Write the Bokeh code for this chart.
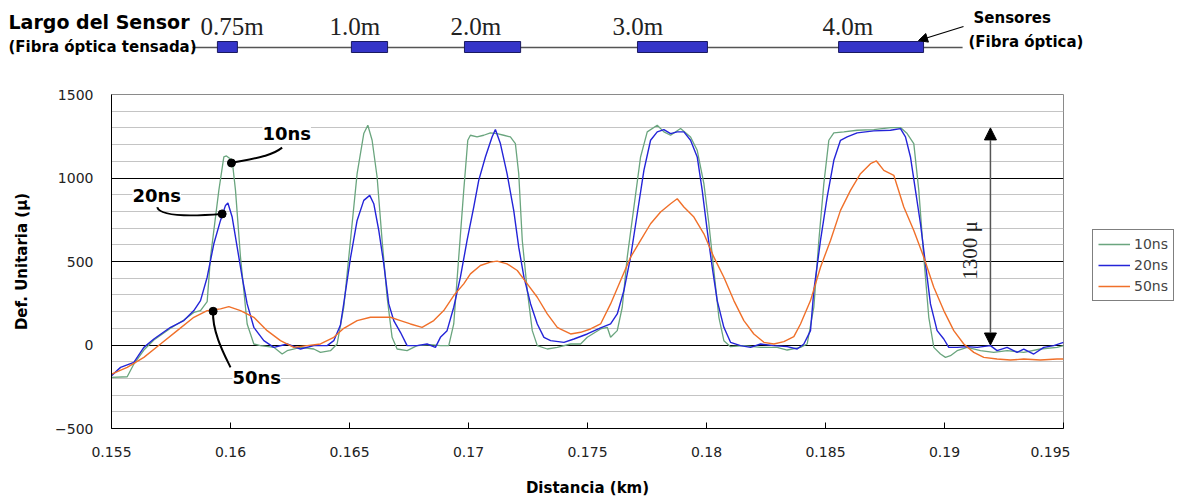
import math
from bokeh.plotting import figure
from bokeh.models import (Range1d, SingleIntervalTicker, FixedTicker, CustomJSTickFormatter,
                          Legend, LegendItem, Label, Arrow, NormalHead)
from bokeh.layouts import column, row
from bokeh.core.properties import value
from bokeh.embed import file_html
from bokeh.resources import INLINE

# ---------------- data ----------------
dist_10 = [0.15500, 0.15566, 0.15594, 0.15636, 0.15678, 0.15748, 0.15804, 0.15846, 0.15874, 0.15902,
           0.15916, 0.15951, 0.15972, 0.15983, 0.16007, 0.16021, 0.16042, 0.16070, 0.16098, 0.16126,
           0.16182, 0.16217, 0.16238, 0.16294, 0.16350, 0.16378, 0.16420, 0.16448, 0.16476, 0.16504,
           0.16532, 0.16560, 0.16577, 0.16595, 0.16616, 0.16637, 0.16658, 0.16679, 0.16700, 0.16742,
           0.16784, 0.16840, 0.16882, 0.16917, 0.16938, 0.16959, 0.16980, 0.16997, 0.17008, 0.17036,
           0.17064, 0.17092, 0.17120, 0.17148, 0.17176, 0.17197, 0.17211, 0.17226, 0.17247, 0.17268,
           0.17289, 0.17331, 0.17373, 0.17429, 0.17471, 0.17499, 0.17555, 0.17583, 0.17597, 0.17625,
           0.17646, 0.17667, 0.17695, 0.17723, 0.17751, 0.17793, 0.17821, 0.17849, 0.17891, 0.17933,
           0.17961, 0.17989, 0.18010, 0.18031, 0.18052, 0.18073, 0.18101, 0.18157, 0.18227, 0.18297,
           0.18339, 0.18395, 0.18423, 0.18451, 0.18472, 0.18493, 0.18514, 0.18535, 0.18577, 0.18633,
           0.18703, 0.18773, 0.18815, 0.18843, 0.18871, 0.18892, 0.18913, 0.18934, 0.18955, 0.18983,
           0.19004, 0.19025, 0.19053, 0.19095, 0.19151, 0.19207, 0.19263, 0.19333, 0.19403, 0.19473,
           0.19500]
def_10 = [-194, -190, -114, -30, 30, 100, 150, 195, 206, 260,
          526, 926, 1126, 1132, 1106, 926, 526, 126, 6, -4,
          -14, -54, -34, -14, -24, -44, -34, 6, 226, 626,
          1026, 1266, 1316, 1226, 1006, 626, 286, 46, -24, -34,
          -4, 2, -4, -4, 126, 526, 926, 1226, 1256, 1246,
          1256, 1270, 1266, 1256, 1246, 1206, 1026, 626, 326, 86,
          -4, -24, -14, 6, 6, 46, 96, 106, 46, 86,
          226, 526, 826, 1126, 1276, 1316, 1276, 1256, 1296, 1246,
          1166, 966, 726, 446, 166, 26, -10, -4, -14, -14,
          -30, -14, 6, 226, 626, 966, 1226, 1270, 1276, 1286,
          1290, 1302, 1302, 1266, 1206, 926, 526, 166, -14, -54,
          -74, -64, -34, -14, -34, -44, -34, -44, -24, -14,
          -4]

dist_20 = [0.15500, 0.15538, 0.15594, 0.15636, 0.15678, 0.15748, 0.15804, 0.15846, 0.15874, 0.15902,
           0.15930, 0.15958, 0.15979, 0.15989, 0.16007, 0.16028, 0.16049, 0.16070, 0.16098, 0.16140,
           0.16182, 0.16238, 0.16294, 0.16350, 0.16406, 0.16434, 0.16462, 0.16476, 0.16504, 0.16532,
           0.16560, 0.16585, 0.16602, 0.16623, 0.16644, 0.16665, 0.16686, 0.16714, 0.16742, 0.16784,
           0.16826, 0.16861, 0.16882, 0.16910, 0.16938, 0.16966, 0.16994, 0.17022, 0.17043, 0.17071,
           0.17099, 0.17113, 0.17134, 0.17162, 0.17190, 0.17211, 0.17233, 0.17261, 0.17289, 0.17317,
           0.17345, 0.17401, 0.17443, 0.17499, 0.17555, 0.17597, 0.17625, 0.17653, 0.17681, 0.17709,
           0.17737, 0.17765, 0.17793, 0.17821, 0.17849, 0.17877, 0.17905, 0.17933, 0.17961, 0.17982,
           0.18003, 0.18024, 0.18045, 0.18073, 0.18101, 0.18143, 0.18185, 0.18227, 0.18283, 0.18339,
           0.18381, 0.18409, 0.18423, 0.18437, 0.18451, 0.18479, 0.18507, 0.18535, 0.18563, 0.18591,
           0.18633, 0.18703, 0.18773, 0.18815, 0.18836, 0.18857, 0.18878, 0.18899, 0.18920, 0.18941,
           0.18969, 0.18997, 0.19018, 0.19053, 0.19095, 0.19137, 0.19193, 0.19221, 0.19263, 0.19305,
           0.19333, 0.19375, 0.19417, 0.19459, 0.19500]
def_20 = [-184, -134, -104, -14, 36, 106, 146, 206, 266, 406,
          606, 746, 836, 850, 766, 586, 406, 246, 106, 26,
          -14, 6, -24, -4, -4, 26, 120, 250, 520, 746,
          866, 896, 846, 686, 486, 246, 146, 76, -4, -4,
          6, -14, 46, 86, 226, 406, 626, 826, 986, 1126,
          1246, 1290, 1206, 1026, 806, 586, 406, 246, 126, 46,
          26, 16, 36, 66, 102, 126, 186, 326, 526, 786,
          1046, 1226, 1276, 1290, 1266, 1276, 1276, 1226, 1126, 926,
          686, 466, 266, 106, 16, -4, -14, 6, -4, -10,
          -24, 6, 46, 86, 326, 626, 886, 1106, 1226, 1246,
          1270, 1282, 1286, 1296, 1246, 1126, 926, 726, 486, 246,
          86, 36, -14, -14, -10, -14, -4, -34, -14, -44,
          -24, -54, -14, -4, 16]

dist_50 = [0.15500, 0.15566, 0.15636, 0.15706, 0.15776, 0.15846, 0.15902, 0.15958, 0.15993, 0.16042,
           0.16098, 0.16154, 0.16210, 0.16266, 0.16322, 0.16378, 0.16434, 0.16476, 0.16532, 0.16588,
           0.16630, 0.16672, 0.16714, 0.16756, 0.16805, 0.16854, 0.16896, 0.16938, 0.16980, 0.17008,
           0.17050, 0.17092, 0.17120, 0.17162, 0.17205, 0.17247, 0.17289, 0.17331, 0.17373, 0.17387,
           0.17429, 0.17471, 0.17513, 0.17555, 0.17597, 0.17639, 0.17681, 0.17723, 0.17765, 0.17807,
           0.17849, 0.17877, 0.17905, 0.17947, 0.17989, 0.18031, 0.18073, 0.18115, 0.18157, 0.18199,
           0.18241, 0.18283, 0.18325, 0.18367, 0.18395, 0.18437, 0.18479, 0.18521, 0.18563, 0.18605,
           0.18647, 0.18689, 0.18714, 0.18745, 0.18787, 0.18829, 0.18871, 0.18913, 0.18955, 0.18997,
           0.19039, 0.19081, 0.19123, 0.19165, 0.19221, 0.19277, 0.19333, 0.19403, 0.19473, 0.19500]
def_50 = [-174, -134, -74, 6, 86, 166, 206, 216, 230, 206,
          166, 86, 26, -14, -4, 6, 46, 100, 146, 166,
          166, 166, 146, 126, 106, 146, 206, 296, 366, 426,
          476, 496, 502, 486, 446, 366, 286, 186, 106, 95,
          66, 76, 96, 126, 246, 386, 526, 626, 726, 796,
          846, 876, 826, 766, 666, 526, 406, 266, 146, 66,
          16, 6, 20, 50, 126, 266, 466, 626, 806, 926,
          1026, 1086, 1102, 1046, 1016, 826, 686, 526, 346, 206,
          86, 6, -44, -74, -84, -90, -84, -90, -84, -84]

series_names = ["10ns", "20ns", "50ns"]
series_colors = ["#6AA57E", "#2424D8", "#F0702A"]

x_ticks = [0.155, 0.16, 0.165, 0.17, 0.175, 0.18, 0.185, 0.19, 0.195]

# sensors (header)
sensor_labels = ["0.75m", "1.0m", "2.0m", "3.0m", "4.0m"]
sensor_start = [0.15945, 0.16508, 0.16983, 0.17710, 0.18555]
sensor_end = [0.16029, 0.16660, 0.17219, 0.18004, 0.18912]
sensor_label_x = [0.15874, 0.16416, 0.16924, 0.17605, 0.18487]
fiber_start, fiber_end = 0.15840, 0.19076

# annotations
ann_text = ["10ns", "20ns", "50ns"]
ann_text_x = [0.16134, 0.15588, 0.16008]
ann_text_y = [1266, 896, -194]
dot_x = [0.16004, 0.15965, 0.15927]
dot_y = [1090, 785, 202]
curve_x0 = [0.16004, 0.15692, 0.15927]
curve_y0 = [1090, 825, 202]
curve_x1 = [0.16217, 0.15965, 0.16000]
curve_y1 = [1182, 785, -134]
curve_cx0 = [0.16110, 0.15705, 0.15922]
curve_cy0 = [1120, 765, 80]
curve_cx1 = [0.16170, 0.15850, 0.15975]
curve_cy1 = [1130, 772, -60]

range_x = 0.19193
range_lo, range_hi = 0, 1300

BOLD = "DejaVu Sans"
W = 1178
BL = 111
FRAME_R = 1063
PX_PER_KM = (FRAME_R - BL) / 0.04

# ---------------- header figure ----------------
HH = 68
hf = figure(width=W, height=HH,
            x_range=Range1d(0.155 - BL / PX_PER_KM, 0.155 + (W - BL) / PX_PER_KM),
            y_range=Range1d(0, HH), x_axis_location=None, y_axis_location=None,
            output_backend="svg", toolbar_location=None,
            min_border_left=0, min_border_right=0, min_border_top=0, min_border_bottom=0)
hf.grid.visible = False
hf.outline_line_color = None

hf.segment(x0=[fiber_start], y0=[21], x1=[fiber_end], y1=[21], line_color="#555555", line_width=1.3)
hf.quad(left=sensor_start, right=sensor_end, bottom=16, top=27,
        fill_color="#3434C8", line_color="#1a1a60", line_width=1)
hf.text(x=sensor_label_x, y=[42] * 5, text=sensor_labels, text_baseline="middle",
        text_font=value("Liberation Serif"), text_font_size="25px", text_color="#222222")

for txt, lx, ly, fs in [("Largo del Sensor", 8, 47, "19px"),
                        ("(Fibra óptica tensada)", 8, 22, "15px"),
                        ("Sensores", 973, 51, "15px"),
                        ("(Fibra óptica)", 968, 27, "15px")]:
    hf.add_layout(Label(x=lx, y=ly, x_units="screen", y_units="screen", text=txt,
                        text_font=BOLD, text_font_style="bold", text_font_size=fs,
                        text_color="black", text_baseline="middle", text_align="left"))
hf.add_layout(Arrow(end=NormalHead(size=9, fill_color="black", line_color="black"),
                    x_start=963, y_start=42, x_end=918, y_end=28,
                    start_units="screen", end_units="screen", line_color="black", line_width=1.3))

# ---------------- main figure ----------------
MH = 431
p = figure(width=FRAME_R + 7, height=MH, x_range=Range1d(0.155, 0.195), y_range=Range1d(-500, 1500),
           output_backend="svg", toolbar_location=None,
           min_border_left=BL, min_border_right=7, min_border_top=26, min_border_bottom=71)

p.xgrid.visible = False
yt = SingleIntervalTicker(interval=500, num_minor_ticks=5)
p.yaxis.ticker = yt
p.ygrid.ticker = yt
p.ygrid.grid_line_color = "black"
p.ygrid.grid_line_width = 1
p.ygrid.minor_grid_line_color = "#c4c4c4"
p.ygrid.minor_grid_line_width = 1
p.outline_line_color = "#8a8a8a"

p.xaxis.ticker = FixedTicker(ticks=x_ticks)
p.xaxis.formatter = CustomJSTickFormatter(code="return String(Math.round(tick*1000)/1000);")
for ax in (p.xaxis[0], p.yaxis[0]):
    ax.axis_line_color = "black"
    ax.axis_line_width = 1
    ax.minor_tick_line_color = None
    ax.major_label_text_font = "DejaVu Sans"
    ax.major_label_text_font_size = "14px"
    ax.major_label_text_color = "#222222"
    ax.axis_label_text_font = BOLD
    ax.axis_label_text_font_style = "bold"
    ax.axis_label_text_font_size = "15px"
    ax.axis_label_text_color = "black"

p.xaxis.major_tick_in = 6
p.xaxis.major_tick_out = 0
p.xaxis.major_tick_line_color = "black"
p.xaxis.major_label_standoff = 18
p.xaxis.axis_label = "Distancia (km)"
p.xaxis.axis_label_standoff = 19

p.yaxis.major_tick_in = 0
p.yaxis.major_tick_out = 0
p.yaxis.major_label_standoff = 14
p.yaxis.axis_label = "Def. Unitaria (µ)"
p.yaxis.axis_label_standoff = 21

r10 = p.line(dist_10, def_10, line_color=series_colors[0], line_width=1.3)
r20 = p.line(dist_20, def_20, line_color=series_colors[1], line_width=1.4)
r50 = p.line(dist_50, def_50, line_color=series_colors[2], line_width=1.4)

# range arrow
p.add_layout(Arrow(start=NormalHead(size=12, fill_color="black", line_color="black"),
                   end=NormalHead(size=12, fill_color="black", line_color="black"),
                   x_start=range_x, y_start=range_lo, x_end=range_x, y_end=range_hi,
                   line_color="#555555", line_width=1.5))
p.add_layout(Label(x=0.19109, y=566, text="1300 μ", angle=math.pi / 2,
                   text_font="Liberation Serif", text_font_size="21px",
                   text_align="center", text_baseline="middle", text_color="#222222"))

# pointer annotations
p.bezier(x0=curve_x0, y0=curve_y0, x1=curve_x1, y1=curve_y1,
         cx0=curve_cx0, cy0=curve_cy0, cx1=curve_cx1, cy1=curve_cy1,
         line_color="black", line_width=2)
p.scatter(dot_x, dot_y, size=8, color="black")
for t, tx, ty in zip(ann_text, ann_text_x, ann_text_y):
    p.add_layout(Label(x=tx, y=ty, text=t, text_font=BOLD, text_font_style="bold",
                       text_font_size="18px", text_baseline="middle", text_align="left",
                       background_fill_color="white", text_color="black"))

# ---------------- legend figure ----------------
lf = figure(width=W - (FRAME_R + 7), height=MH, x_range=Range1d(0, 1), y_range=Range1d(0, 1),
            x_axis_location=None, y_axis_location=None,
            output_backend="svg", toolbar_location=None,
            min_border_left=0, min_border_right=0, min_border_top=0, min_border_bottom=0)
lf.grid.visible = False
lf.outline_line_color = None
lrs = [lf.line([5, 6], [5, 6], line_color=c, line_width=1.4) for c in series_colors]
legend = Legend(items=[LegendItem(label=n, renderers=[r]) for n, r in zip(series_names, lrs)],
                location=(22, 127), border_line_color="black", border_line_width=1,
                background_fill_color="white", background_fill_alpha=1,
                label_text_font="DejaVu Sans", label_text_font_size="14px",
                glyph_width=32, glyph_height=16, label_height=18, spacing=3,
                padding=5, margin=0, label_standoff=4)
lf.add_layout(legend)

layout = column(row(hf), row(p, lf))
open("out.html", "w").write(file_html(layout, INLINE))
